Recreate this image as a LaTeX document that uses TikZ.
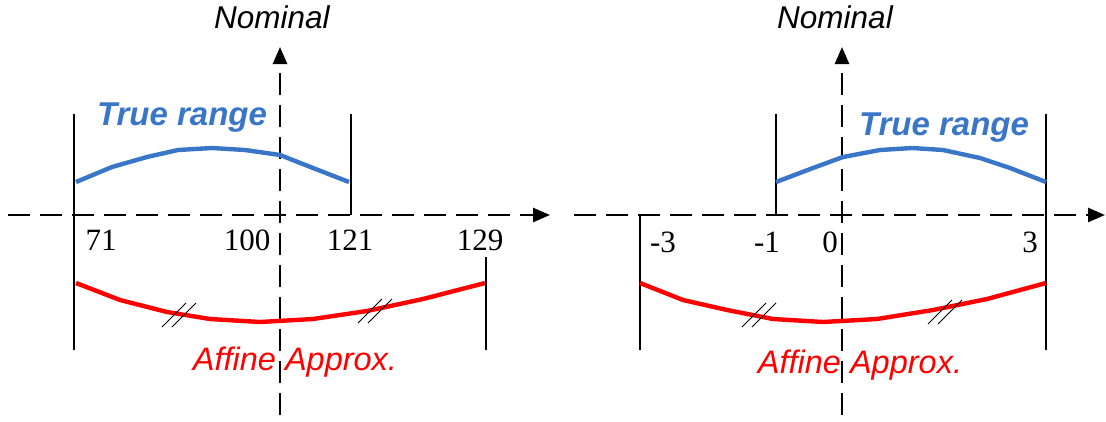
\documentclass[tikz,border=0pt]{standalone}
\usepackage{fontspec}
\setmainfont{Liberation Serif}
\setsansfont{Liberation Sans}
\usetikzlibrary{positioning, arrows.meta}
\definecolor{truebl}{RGB}{58,118,200}
\definecolor{affred}{RGB}{255,0,0}

\begin{document}
\begin{tikzpicture}[x=1pt, y=-1pt,
  axis/.style={line width=2.6pt, dash pattern=on 22pt off 10pt,
               -{Triangle[length=17pt, width=14pt]}},
  bound/.style={line width=2.2pt},
  truecurve/.style={draw=truebl, line width=4.4pt, line join=round},
  affcurve/.style={draw=affred, line width=4.4pt, line join=round},
  hatch/.style={line width=0.8pt},
  tick/.style={font=\fontsize{31}{36}\selectfont, anchor=base, inner sep=0pt},
  axlabel/.style={font=\sffamily\itshape\fontsize{31.5}{36}\selectfont,
                  anchor=base, inner sep=0pt},
  truelabel/.style={font=\sffamily\bfseries\itshape\fontsize{33}{36}\selectfont,
                    text=truebl, anchor=base, inner sep=0pt},
  afflabel/.style={font=\sffamily\itshape\fontsize{32.5}{36}\selectfont,
                   text=affred, anchor=base, inner sep=0pt},
]
\useasboundingbox (0,0) rectangle (1106,421);

%% ---- Left panel: original ranges ----

\coordinate (L-xs) at (8,215);
\coordinate (L-xe) at (550,215);
\coordinate (L-ys) at (280,415);
\coordinate (L-ye) at (280,47);
\draw[axis] (L-xs) -- (L-xe);
\draw[axis] (L-ys) -- (L-ye);
\node[axlabel] (L-nom) at (272,28) {Nominal};

\draw[bound] (74,114) -- (74,350);
\draw[bound] (351,114) -- (351,215);
\draw[bound] (486,257) -- (486,350);

\draw[truecurve] (76,182) -- (112,167) -- (147,157) -- (178,150) -- (212,148)
  -- (245,150) -- (280,155) -- (313,168) -- (349,182);
\draw[affcurve] (76,283) -- (120,300) -- (167,312) -- (210,319) -- (260,322)
  -- (313,319) -- (367,311) -- (423,299) -- (485,283);

\foreach \cx/\cy in {179/315, 375/311}
  \foreach \d in {-5,5}
    \draw[hatch] (\cx+\d-12,\cy+12) -- (\cx+\d+12,\cy-12);

\foreach \v/\px in {71/101, 100/247, 121/350, 129/480}
  \node[tick] (L-t\v) at (\px,250) {\v};

\node[truelabel] (L-true) at (182,125) {True range};
\node[afflabel] (L-aff) at (295,370) {Affine Approx.};

%% ---- Right panel: normalised ranges ----

\coordinate (R-xs) at (574,215);
\coordinate (R-xe) at (1105,215);
\coordinate (R-ys) at (842,415);
\coordinate (R-ye) at (842,47);
\draw[axis] (R-xs) -- (R-xe);
\draw[axis] (R-ys) -- (R-ye);
\node[axlabel] (R-nom) at (835,28) {Nominal};

\draw[bound] (640,215) -- (640,350);
\draw[bound] (776,114) -- (776,215);
\draw[bound] (1046,114) -- (1046,350);

\draw[truecurve] (776,182) -- (813,168) -- (843,157) -- (880,150) -- (912,148)
  -- (943,150) -- (980,158) -- (1010,168) -- (1046,182);
\draw[affcurve] (640,283) -- (683,300) -- (727,310) -- (773,319) -- (823,322)
  -- (877,319) -- (933,310) -- (987,299) -- (1046,283);

\foreach \cx/\cy in {759/315, 945/312}
  \foreach \d in {-5,5}
    \draw[hatch] (\cx+\d-12,\cy+12) -- (\cx+\d+12,\cy-12);

\foreach \v/\px in {-3/663, -1/767, 0/830, 3/1030}
  \node[tick] (R-t\v) at (\px,252) {\v};

\node[truelabel] (R-true) at (944,135) {True range};
\node[afflabel] (R-aff) at (860,373) {Affine Approx.};

\end{tikzpicture}
\end{document}
